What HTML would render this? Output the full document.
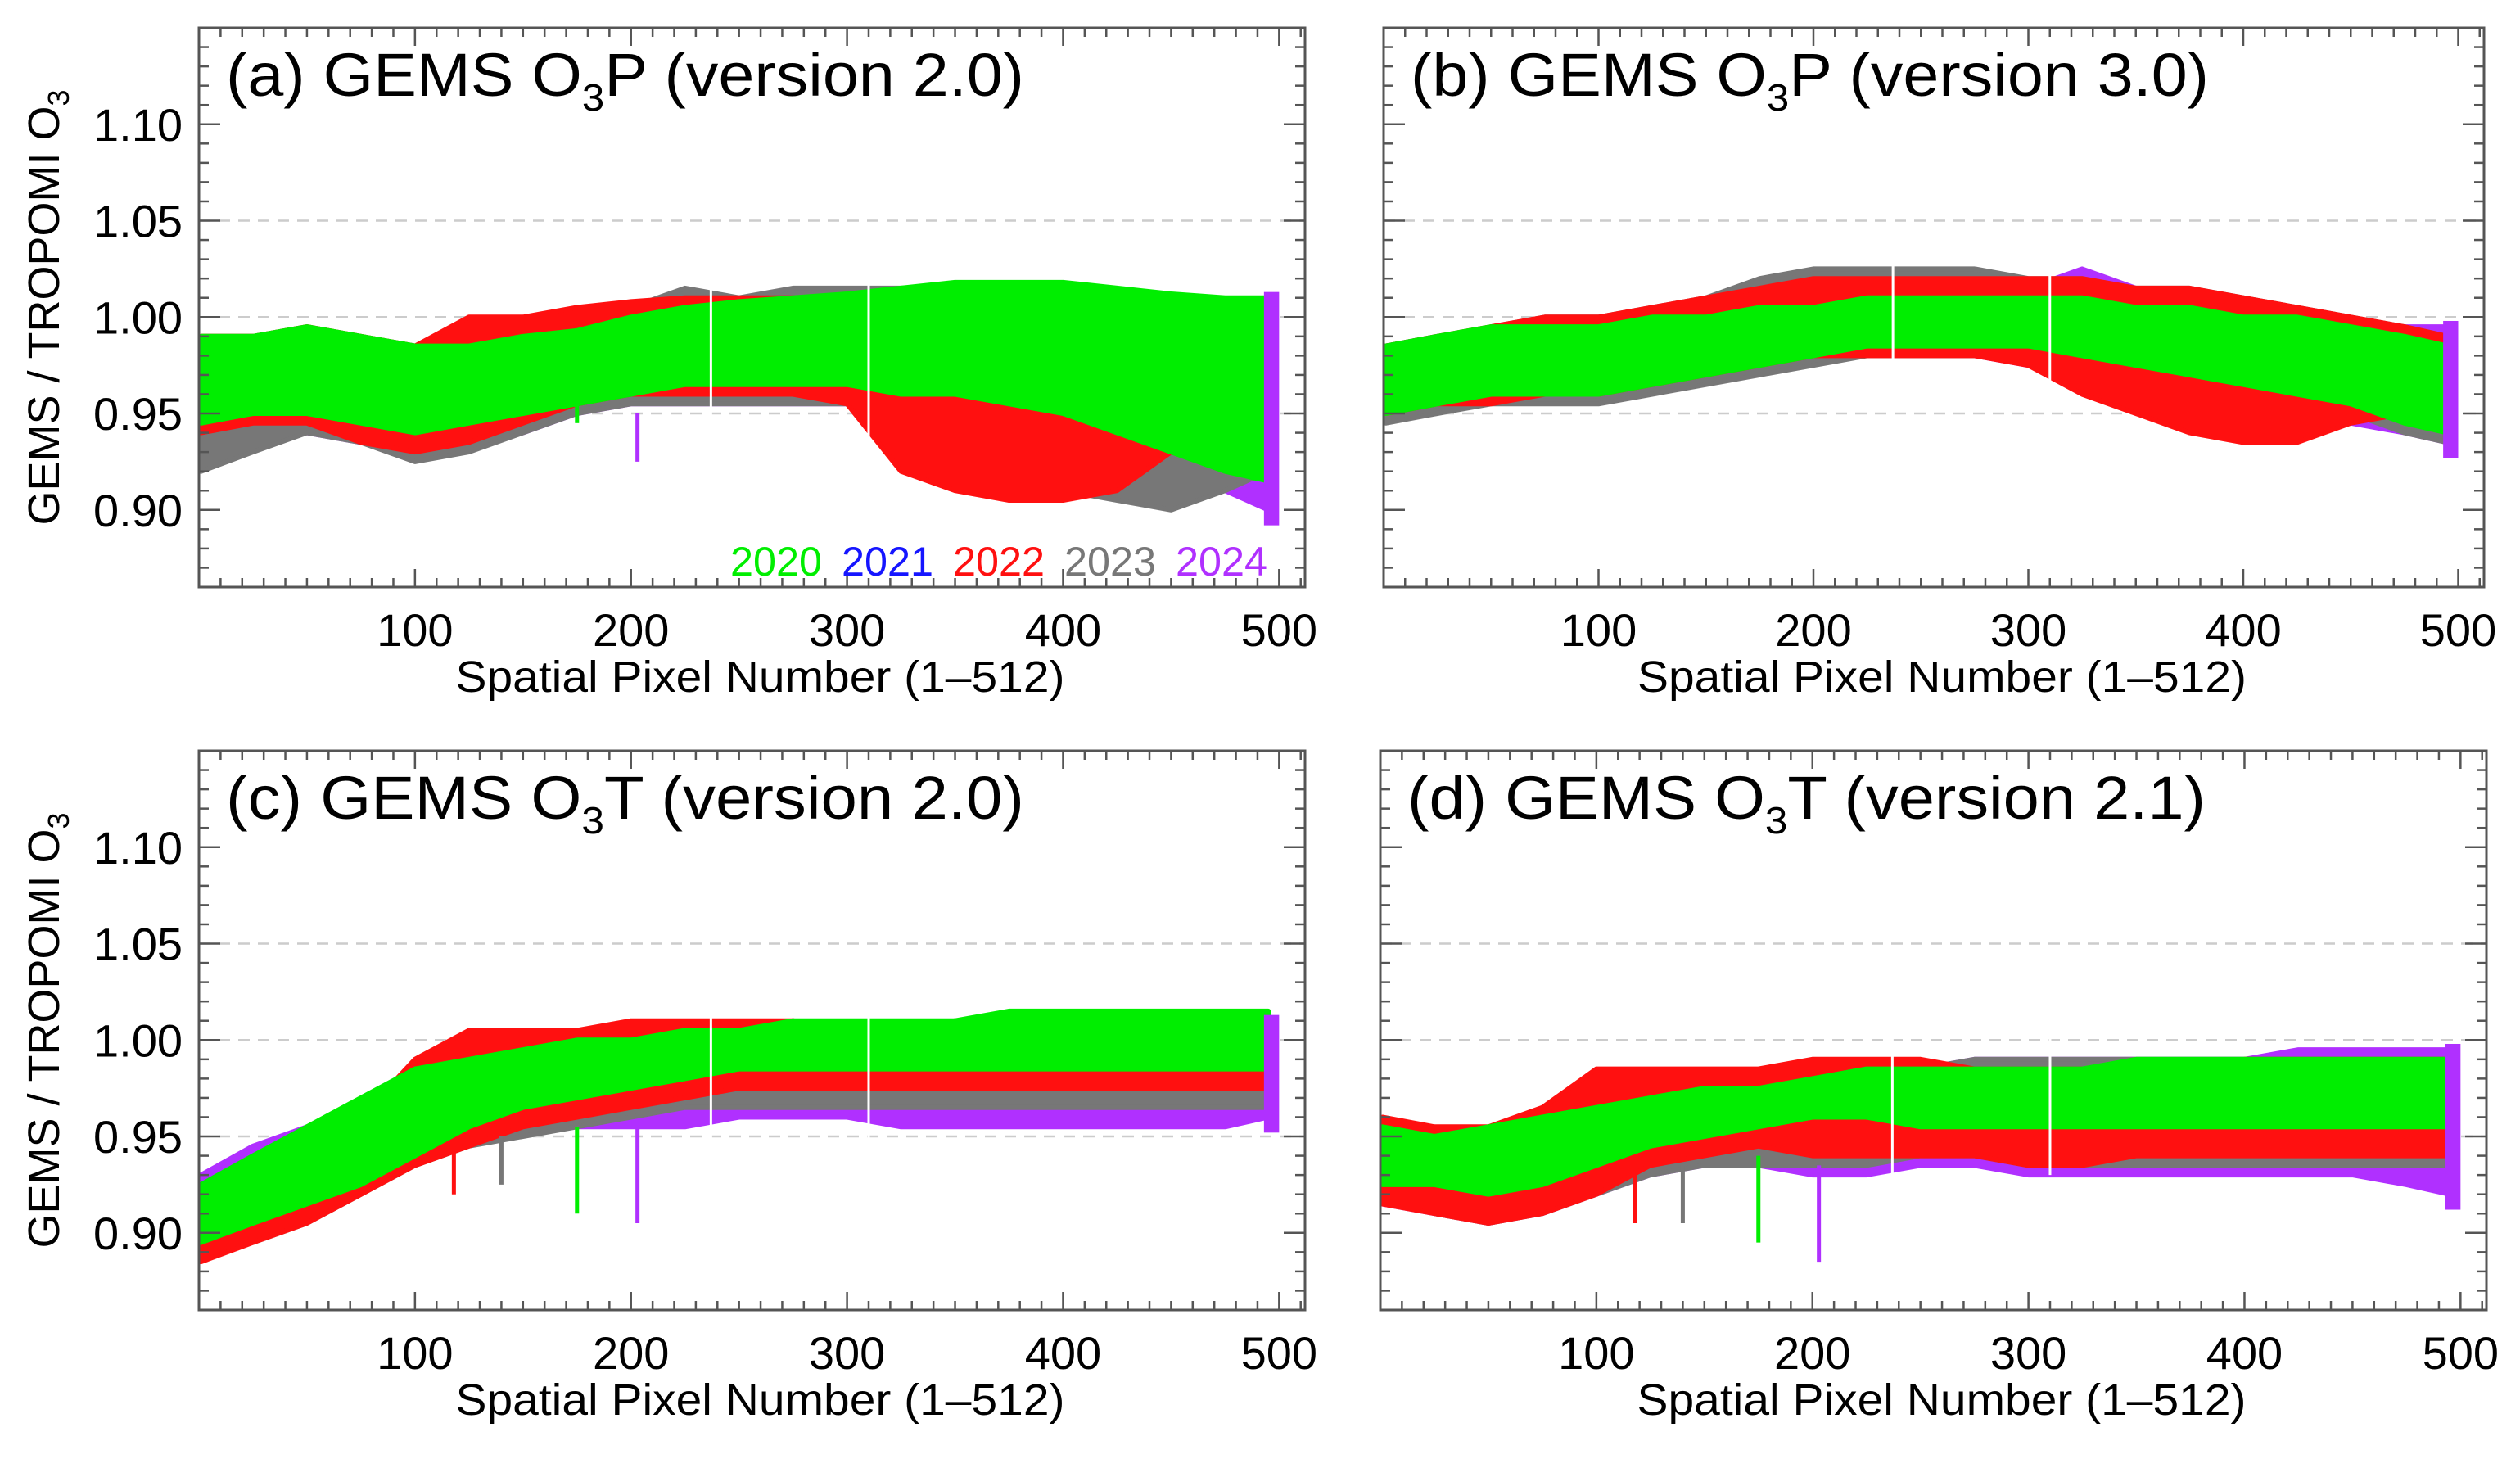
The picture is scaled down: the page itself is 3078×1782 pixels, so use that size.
<!DOCTYPE html>
<html><head><meta charset="utf-8"><style>
html,body{margin:0;padding:0;background:#fff;}
svg{display:block;font-family:"Liberation Sans",Arial,sans-serif;}
</style></head>
<body>
<svg id="fig" width="3078" height="1782" viewBox="0 0 3078 1782" xmlns="http://www.w3.org/2000/svg"></svg>
<script>
// ---- shared data ----
const xs = [1,25,50,75,100,125,150,175,200,225,250,275,300,325,350,375,400,425,450,475,495];
const years = ["2020","2021","2022","2023","2024"];
const yTicks = [0.90,0.95,1.00,1.05,1.10];
const yTickLabels = ["0.90","0.95","1.00","1.05","1.10"];
const xTicks = [100,200,300,400,500];
const xTickLabels = ["100","200","300","400","500"];
const gridVals = [0.95,1.00,1.05];

// panel a: O3P v2.0
const aGreenLo = [0.945,0.95,0.95,0.945,0.94,0.945,0.95,0.955,0.96,0.965,0.965,0.965,0.965,0.96,0.96,0.955,0.95,0.94,0.93,0.92,0.915];
const aGreenHi = [0.99,0.99,0.995,0.99,0.985,0.985,0.99,0.993,1.0,1.005,1.008,1.01,1.012,1.015,1.018,1.018,1.018,1.015,1.012,1.01,1.01];
const aRedLo = [0.94,0.945,0.945,0.935,0.93,0.935,0.945,0.955,0.96,0.96,0.96,0.96,0.955,0.92,0.91,0.905,0.905,0.91,0.93,0.94,0.94];
const aRedHi = [0.99,0.99,0.995,0.99,0.985,1.0,1.0,1.005,1.008,1.01,1.01,1.01,1.01,1.01,1.01,1.01,1.01,1.005,1.0,1.0,1.0];
const aGrayLo = [0.92,0.93,0.94,0.935,0.925,0.93,0.94,0.95,0.955,0.955,0.955,0.955,0.955,0.94,0.93,0.92,0.91,0.905,0.9,0.91,0.92];
const aGrayHi = [0.99,0.99,0.995,0.99,0.985,0.99,0.995,1.0,1.005,1.015,1.01,1.015,1.015,1.015,1.015,1.015,1.015,1.01,1.01,1.005,1.005];
const aPurpLo = [0.93,0.94,0.94,0.935,0.93,0.935,0.94,0.95,0.955,0.955,0.955,0.955,0.955,0.95,0.945,0.94,0.935,0.925,0.915,0.91,0.9];
const aPurpHi = [0.98,0.985,0.99,0.985,0.98,0.985,0.99,0.995,1.0,1.0,1.0,1.0,1.0,1.0,1.0,1.0,1.0,1.0,1.005,1.005,1.01];
const aSpikeX = [175,203]; const aSpikeLo = [0.945,0.925]; const aSpikeHi = [0.96,0.95]; const aSpikeC = ["#00ee00","#b030ff"];

// panel b: O3P v3.0
const bGreenLo = [0.95,0.955,0.96,0.96,0.96,0.965,0.97,0.975,0.98,0.985,0.985,0.985,0.985,0.98,0.975,0.97,0.965,0.96,0.955,0.945,0.94];
const bGreenHi = [0.985,0.99,0.995,0.995,0.995,1.0,1.0,1.005,1.005,1.01,1.01,1.01,1.01,1.01,1.005,1.005,1.0,1.0,0.995,0.99,0.985];
const bRedLo = [0.95,0.955,0.955,0.96,0.96,0.965,0.97,0.975,0.98,0.98,0.98,0.98,0.975,0.96,0.95,0.94,0.935,0.935,0.945,0.95,0.95];
const bRedHi = [0.985,0.99,0.995,1.0,1.0,1.005,1.01,1.015,1.02,1.02,1.02,1.02,1.02,1.02,1.015,1.015,1.01,1.005,1.0,0.995,0.99];
const bGrayLo = [0.945,0.95,0.955,0.955,0.955,0.96,0.965,0.97,0.975,0.98,0.98,0.98,0.98,0.975,0.97,0.965,0.96,0.955,0.95,0.94,0.935];
const bGrayHi = [0.985,0.99,0.995,1.0,1.0,1.005,1.01,1.02,1.025,1.025,1.025,1.025,1.02,1.02,1.015,1.015,1.01,1.005,1.0,0.995,0.99];
const bPurpLo = [0.95,0.955,0.96,0.96,0.96,0.965,0.97,0.975,0.98,0.98,0.98,0.98,0.975,0.97,0.965,0.96,0.955,0.95,0.945,0.94,0.935];
const bPurpHi = [0.985,0.99,0.99,0.995,0.995,1.0,1.005,1.01,1.01,1.015,1.015,1.015,1.015,1.025,1.015,1.01,1.005,1.0,0.995,0.995,0.995];
const bSpikeX = []; const bSpikeLo = []; const bSpikeHi = []; const bSpikeC = [];

// panel c: O3T v2.0
const cGreenLo = [0.895,0.905,0.915,0.925,0.94,0.955,0.965,0.97,0.975,0.98,0.985,0.985,0.985,0.985,0.985,0.985,0.985,0.985,0.985,0.985,0.985];
const cGreenHi = [0.925,0.94,0.955,0.97,0.985,0.99,0.995,1.0,1.0,1.005,1.005,1.01,1.01,1.01,1.01,1.015,1.015,1.015,1.015,1.015,1.015];
const cRedLo = [0.885,0.895,0.905,0.92,0.935,0.945,0.955,0.96,0.965,0.97,0.975,0.975,0.975,0.975,0.975,0.975,0.975,0.975,0.975,0.975,0.975];
const cRedHi = [0.915,0.93,0.945,0.96,0.99,1.005,1.005,1.005,1.01,1.01,1.01,1.01,1.005,1.005,1.01,1.01,1.01,1.01,1.01,1.01,1.01];
const cGrayLo = [0.89,0.895,0.905,0.92,0.935,0.945,0.95,0.955,0.96,0.965,0.965,0.965,0.965,0.965,0.965,0.965,0.965,0.965,0.965,0.965,0.965];
const cGrayHi = [0.92,0.935,0.95,0.965,0.98,0.99,0.995,1.0,1.0,1.005,1.005,1.01,1.005,1.005,1.01,1.01,1.01,1.01,1.01,1.01,1.01];
const cPurpLo = [0.905,0.915,0.925,0.935,0.945,0.95,0.955,0.955,0.955,0.955,0.96,0.96,0.96,0.955,0.955,0.955,0.955,0.955,0.955,0.955,0.96];
const cPurpHi = [0.93,0.945,0.955,0.965,0.975,0.98,0.985,0.985,0.99,0.99,0.99,0.99,0.99,0.99,0.99,0.99,0.99,0.99,0.99,0.99,1.01];
const cSpikeX = [118,140,175,203]; const cSpikeLo = [0.92,0.925,0.91,0.905]; const cSpikeHi = [0.945,0.95,0.955,0.955]; const cSpikeC = ["#ff1010","#777777","#00ee00","#b030ff"];

// panel d: O3T v2.1
const dGreenLo = [0.925,0.925,0.92,0.925,0.935,0.945,0.95,0.955,0.96,0.96,0.955,0.955,0.955,0.955,0.955,0.955,0.955,0.955,0.955,0.955,0.955];
const dGreenHi = [0.955,0.95,0.955,0.96,0.965,0.97,0.975,0.975,0.98,0.985,0.985,0.985,0.985,0.985,0.99,0.99,0.99,0.99,0.99,0.99,0.99];
const dRedLo = [0.915,0.91,0.905,0.91,0.92,0.935,0.94,0.945,0.94,0.94,0.94,0.94,0.935,0.935,0.94,0.94,0.94,0.94,0.94,0.94,0.94];
const dRedHi = [0.96,0.955,0.955,0.965,0.985,0.985,0.985,0.985,0.99,0.99,0.99,0.985,0.985,0.985,0.985,0.985,0.99,0.99,0.99,0.99,0.99];
const dGrayLo = [0.92,0.91,0.905,0.91,0.92,0.93,0.935,0.935,0.935,0.935,0.94,0.94,0.935,0.935,0.935,0.935,0.935,0.935,0.935,0.935,0.935];
const dGrayHi = [0.955,0.95,0.955,0.96,0.965,0.97,0.975,0.975,0.98,0.985,0.985,0.99,0.99,0.99,0.99,0.99,0.99,0.99,0.99,0.99,0.99];
const dPurpLo = [0.915,0.91,0.905,0.91,0.92,0.93,0.935,0.935,0.93,0.93,0.935,0.935,0.93,0.93,0.93,0.93,0.93,0.93,0.93,0.925,0.92];
const dPurpHi = [0.955,0.95,0.955,0.96,0.965,0.97,0.975,0.975,0.98,0.985,0.985,0.99,0.99,0.99,0.99,0.99,0.99,0.995,0.995,0.995,0.995];
const dSpikeX = [118,140,175,203]; const dSpikeLo = [0.905,0.905,0.895,0.885]; const dSpikeHi = [0.935,0.935,0.94,0.935]; const dSpikeC = ["#ff1010","#777777","#00ee00","#b030ff"];

const NS = "http://www.w3.org/2000/svg";
const svg = document.getElementById("fig");
function mk(tag, attrs, parent){ const e=document.createElementNS(NS,tag); for(const k in attrs) e.setAttribute(k,attrs[k]); (parent||svg).appendChild(e); return e; }

const panels = [
 {id:"a", L:243, R:1594, T:34, B:717, title:["(a) GEMS O","3","P (version 2.0)"], ylab:true, legend:true,
  series:[["#b030ff",aPurpLo,aPurpHi,"2024"],["#777777",aGrayLo,aGrayHi,"2023"],["#ff1010",aRedLo,aRedHi,"2022"],["#00ee00",aGreenLo,aGreenHi,"2020"]],
  sx:aSpikeX, slo:aSpikeLo, shi:aSpikeHi, sc:aSpikeC},
 {id:"b", L:1690, R:3034, T:34, B:717, title:["(b) GEMS O","3","P (version 3.0)"], ylab:false, legend:false,
  series:[["#b030ff",bPurpLo,bPurpHi,"2024"],["#777777",bGrayLo,bGrayHi,"2023"],["#ff1010",bRedLo,bRedHi,"2022"],["#00ee00",bGreenLo,bGreenHi,"2020"]],
  sx:bSpikeX, slo:bSpikeLo, shi:bSpikeHi, sc:bSpikeC},
 {id:"c", L:243, R:1594, T:917, B:1600, title:["(c) GEMS O","3","T (version 2.0)"], ylab:true, legend:false,
  series:[["#b030ff",cPurpLo,cPurpHi,"2024"],["#777777",cGrayLo,cGrayHi,"2023"],["#ff1010",cRedLo,cRedHi,"2022"],["#00ee00",cGreenLo,cGreenHi,"2020"]],
  sx:cSpikeX, slo:cSpikeLo, shi:cSpikeHi, sc:cSpikeC},
 {id:"d", L:1686, R:3037, T:917, B:1600, title:["(d) GEMS O","3","T (version 2.1)"], ylab:false, legend:false,
  series:[["#b030ff",dPurpLo,dPurpHi,"2024"],["#777777",dGrayLo,dGrayHi,"2023"],["#ff1010",dRedLo,dRedHi,"2022"],["#00ee00",dGreenLo,dGreenHi,"2020"]],
  sx:dSpikeX, slo:dSpikeLo, shi:dSpikeHi, sc:dSpikeC}
];
const Y0=0.86, Y1=1.15, X0=0, X1=512;

panels.forEach(p=>{
  const g = mk("g",{});
  
  
  const X = v => p.L + (v-X0)/(X1-X0)*(p.R-p.L);
  const Y = v => p.B - (v-Y0)/(Y1-Y0)*(p.B-p.T);
  gridVals.forEach(v=>{
    const l = mk("line",{x1:p.L,x2:p.R,y1:Y(v),y2:Y(v),stroke:"#cccccc","stroke-width":2.5,"stroke-dasharray":"14,10"},g);
    
    
  });
  p.series.forEach(s=>{
    let d="M"+xs.map((x,i)=>X(x).toFixed(1)+","+Y(s[2][i]).toFixed(1)).join(" L");
    for(let i=xs.length-1;i>=0;i--) d+=" L"+X(xs[i]).toFixed(1)+","+Y(s[1][i]).toFixed(1);
    d+=" Z";
    const path = mk("path",{d:d,fill:s[0],stroke:s[0],"stroke-width":6,"stroke-linejoin":"round"},g);
    
    
  });
  const last = p.series[0];
  const n = xs.length-1;
  const strip = mk("rect",{x:X(493),y:Y(last[2][n]+0.003),width:X(500)-X(493),height:Y(last[1][n]-0.008)-Y(last[2][n]+0.003),fill:"#b030ff"},g);
  
  
  p.sx.forEach((x,i)=>{
    const l = mk("line",{x1:X(x),x2:X(x),y1:Y(p.slo[i]),y2:Y(p.shi[i]),stroke:p.sc[i],"stroke-width":5},g);
    
    
  });
  [237,310].forEach(x=>{
    const l = mk("line",{x1:X(x),x2:X(x),y1:Y(1.03),y2:Y(0.93),stroke:"#ffffff","stroke-width":3},g);
    
    
  });
  const fr = mk("rect",{x:p.L,y:p.T,width:p.R-p.L,height:p.B-p.T,fill:"none",stroke:"#555",'stroke-width':3},g);
  
  
  for(let v=10; v<=510; v+=10){
    const major = v%100===0; const len = major?22:11;
    const t1 = mk("line",{x1:X(v),x2:X(v),y1:p.B,y2:p.B-len,stroke:"#555","stroke-width":2.5},g);
    
    
    const t2 = mk("line",{x1:X(v),x2:X(v),y1:p.T,y2:p.T+len,stroke:"#555","stroke-width":2.5},g);
    
    
  }
  for(let k=87; k<=114; k++){
    const v=k/100; const major = k%5===0; const len = major?26:12;
    const t1 = mk("line",{x1:p.L,x2:p.L+len,y1:Y(v),y2:Y(v),stroke:"#555","stroke-width":2.5},g);
    
    
    const t2 = mk("line",{x1:p.R,x2:p.R-len,y1:Y(v),y2:Y(v),stroke:"#555","stroke-width":2.5},g);
    
    
  }
  xTicks.forEach((v,i)=>{
    const t = mk("text",{x:X(v),y:p.B+72,"font-size":56,"text-anchor":"middle",fill:"#000"},g);
    t.textContent = xTickLabels[i];
    
    
  });
  const xt = mk("text",{x:(p.L+p.R)/2+10,y:p.B+128,"font-size":54,"text-anchor":"middle",textLength:744,lengthAdjust:"spacingAndGlyphs",fill:"#000"},g);
  xt.textContent = "Spatial Pixel Number (1\u2013512)";
  
  
  if(p.ylab){
    yTicks.forEach((v,i)=>{
      const t = mk("text",{x:p.L-20,y:Y(v)+20,"font-size":56,"text-anchor":"end",fill:"#000"},g);
      t.textContent = yTickLabels[i];
      
      
    });
    const cy=(p.T+p.B)/2;
    const yt = mk("text",{x:0,y:0,"font-size":54,"text-anchor":"middle",fill:"#000",transform:`translate(72,${cy}) rotate(-90)`},g);
    
    
    yt.innerHTML = 'GEMS / TROPOMI O<tspan font-size="36" dy="12">3</tspan>';
  }
  const tt = mk("text",{x:p.L+33,y:p.T+83,"font-size":74,fill:"#000",textLength:975,lengthAdjust:"spacingAndGlyphs"},g);
  
  
  tt.innerHTML = p.title[0]+'<tspan font-size="46" dy="18">'+p.title[1]+'</tspan><tspan dy="-18">'+p.title[2]+'</tspan>';
  if(p.legend){
    const cols=["#00ee00","#1515ff","#ff1010","#777777","#b030ff"];
    years.forEach((yr,i)=>{
      const t = mk("text",{x:892+i*136,y:703,"font-size":50,fill:cols[i],textLength:112,lengthAdjust:"spacingAndGlyphs"},g);
      t.textContent = yr;
      
      
    });
  }
});
</script>
</body></html>
